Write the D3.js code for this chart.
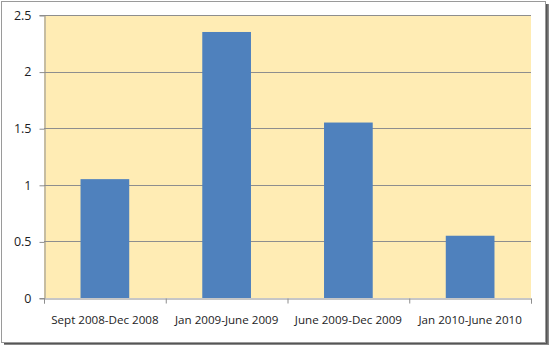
<!DOCTYPE html>
<html>
<head>
<meta charset="utf-8">
<script src="https://cdn.jsdelivr.net/npm/d3@7"></script>
<style>
  body { margin: 0; background: #fff; }
  svg { display: block; }
  text { font-family: "Open Sans", "Liberation Sans", sans-serif; fill: #1c1c24; }
</style>
</head>
<body>
<div id="svgContainer"></div>
<script>
var categories = ["Sept 2008-Dec 2008", "Jan 2009-June 2009", "June 2009-Dec 2009", "Jan 2010-June 2010"];
var values = [1.05, 2.35, 1.55, 0.55];
var yTicks = [0, 0.5, 1, 1.5, 2, 2.5];

var width = 551, height = 348;
var plot = { left: 44, right: 531, top: 15, bottom: 298 };

var svg = d3.select("#svgContainer").append("svg")
    .attr("width", width)
    .attr("height", height);

// frame with shadow
svg.append("rect")
    .attr("x", 4).attr("y", 4).attr("width", 545).attr("height", 341)
    .attr("fill", "#8a8a8a");
svg.append("rect")
    .attr("x", 4).attr("y", 4).attr("width", 543.5).attr("height", 340)
    .attr("fill", "#555");
svg.append("rect")
    .attr("x", 1.5).attr("y", 1.5).attr("width", 544).attr("height", 341)
    .attr("fill", "#fff").attr("stroke", "#9a9a9a");

var x = d3.scaleBand()
    .domain(categories)
    .range([plot.left, plot.right])
    .paddingInner(0.6)
    .paddingOuter(0.3);

var y = d3.scaleLinear()
    .domain([0, 2.5])
    .range([plot.bottom, plot.top]);

svg.append("rect")
    .attr("x", plot.left).attr("y", plot.top)
    .attr("width", plot.right - plot.left).attr("height", plot.bottom - plot.top)
    .attr("fill", "#ffecb4");

// gridlines
svg.selectAll("line.grid")
    .data(yTicks.slice(1))
    .enter().append("line")
    .attr("class", "grid")
    .attr("x1", plot.left).attr("x2", plot.right)
    .attr("y1", function(d) { return Math.round(y(d)) + 0.5; })
    .attr("y2", function(d) { return Math.round(y(d)) + 0.5; })
    .attr("stroke", "#8e8e8e");

svg.selectAll("rect.bar")
    .data(values)
    .enter().append("rect")
    .attr("class", "bar")
    .attr("x", function(d, i) { return x(categories[i]); })
    .attr("y", function(d) { return y(d); })
    .attr("width", x.bandwidth())
    .attr("height", function(d) { return y(0) - y(d); })
    .attr("fill", "#4f81bd");

// y axis
var yAxis = svg.append("g")
    .attr("transform", "translate(" + (plot.left + 0.5) + ",0)")
    .call(d3.axisLeft(y).tickValues(yTicks).tickSize(5).tickPadding(8)
        .tickFormat(function(d) { return d; }));
yAxis.select(".domain").attr("stroke", "#8e8e8e");
yAxis.selectAll(".tick line").attr("stroke", "#8e8e8e")
    .attr("transform", "translate(0,0.5)");
yAxis.selectAll("text").style("font-size", "12.5px").attr("dy", "0.35em");

// x axis
var xTickScale = d3.scaleLinear().domain([0, categories.length]).range([plot.left, plot.right]);
var xAxis = svg.append("g")
    .attr("transform", "translate(0," + (plot.bottom + 0.5) + ")")
    .call(d3.axisBottom(xTickScale).tickValues(d3.range(categories.length + 1)).tickSize(5).tickFormat(""));
xAxis.select(".domain").attr("stroke", "#8e8e8e");
xAxis.selectAll(".tick line").attr("stroke", "#8e8e8e");

svg.selectAll("text.cat")
    .data(categories)
    .enter().append("text")
    .attr("class", "cat")
    .attr("x", function(d) { return x(d) + x.bandwidth() / 2; })
    .attr("y", 324)
    .attr("text-anchor", "middle")
    .style("font-size", "11.6px")
    .text(function(d) { return d; });
</script>
</body>
</html>
